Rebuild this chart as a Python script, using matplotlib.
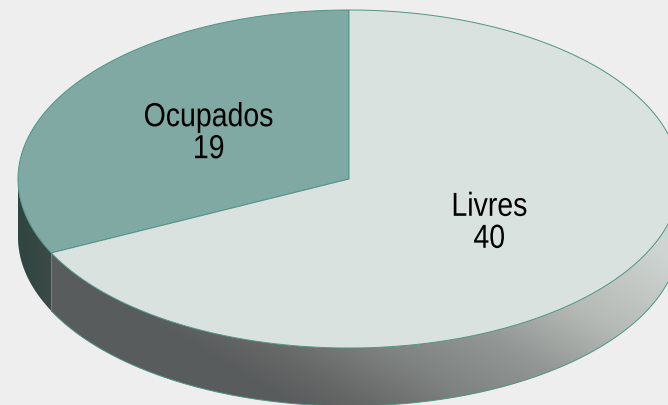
import numpy as np
import matplotlib
matplotlib.use('Agg')
import matplotlib.pyplot as plt
from matplotlib.patches import Polygon
from matplotlib.patheffects import AbstractPathEffect
from matplotlib.transforms import Affine2D
from matplotlib.colors import LinearSegmentedColormap

categories = ['Ocupados', 'Livres']
values = [19, 40]
colors = ['#7fa9a2', '#d9e2df']
edge = '#4f9484'

# geometria da pizza em pixels
cx, cy = 349, 179
rx, ry = 331, 169
depth = 58


class Tall(AbstractPathEffect):
    # estica o texto na vertical, a partir da linha de base (fonte estreita nao instalada)
    def __init__(self, k):
        super().__init__()
        self.k = k

    def draw_path(self, renderer, gc, tpath, affine, rgbFace=None):
        renderer.draw_path(gc, tpath, Affine2D().scale(1, self.k) + affine, rgbFace)


fig = plt.figure(figsize=(6.68, 4.05), dpi=100, facecolor='#eeeeee')
ax = fig.add_axes([0, 0, 1, 1])
ax.set_xlim(0, 668)
ax.set_ylim(405, 0)
ax.axis('off')


def pt(a, dy=0):
    # angulo a partir do topo, sentido anti-horario
    return cx - rx * np.sin(a), cy - ry * np.cos(a) + dy


total = sum(values)
frac = np.cumsum([0] + values) / total * 2 * np.pi

# lateral: so a parte de baixo da elipse aparece
side_cmap = [
    LinearSegmentedColormap.from_list('a', ['#2f4540', '#3c4a47']),
    LinearSegmentedColormap.from_list('b', [(0, '#595c5c'), (0.12, '#656867'), (0.3, '#7e8280'),
                                            (0.5, '#929694'), (0.72, '#b6bab7'), (1, '#ced4d1')]),
]
yy, xx = np.mgrid[0:405, 0:668]
grad = [
    (xx - 18) / 33.0,
    np.clip(((xx - 190) * 0.51 - (yy - 345) * 0.86) / 320.0, 0, 1),
]
for i in range(2):
    a0 = max(frac[i], np.pi / 2)
    a1 = min(frac[i + 1], 3 * np.pi / 2)
    t = np.linspace(a0, a1, 200)
    xt, yt = pt(t)
    xb, yb = pt(t, depth)
    poly = Polygon(np.r_[np.c_[xt, yt], np.c_[xb, yb][::-1]], closed=True,
                   fc='none', ec='none')
    ax.add_patch(poly)
    im = ax.imshow(grad[i], cmap=side_cmap[i], vmin=0, vmax=1, extent=(0, 668, 405, 0),
                   aspect='auto', zorder=1, interpolation='bilinear')
    im.set_clip_path(poly)
    if i == 1:
        ax.plot(xb, yb, color=edge, lw=0.7, zorder=2)
ax.set_xlim(0, 668)
ax.set_ylim(405, 0)

# aresta vertical entre as fatias
xs, ys = pt(frac[1])
ax.plot([xs, xs], [ys, ys + depth], color=edge, lw=0.7, zorder=2)

# tampo
for i in range(2):
    t = np.linspace(frac[i], frac[i + 1], 300)
    xt, yt = pt(t)
    ax.add_patch(Polygon(np.r_[[[cx, cy]], np.c_[xt, yt]], closed=True, fc=colors[i],
                         ec=edge, lw=0.7, zorder=3))

# rotulos
for i in range(2):
    mid = (frac[i] + frac[i + 1]) / 2
    lx = cx - rx * np.sin(mid) * 0.5
    ly = cy - ry * np.cos(mid) * 0.5
    for text, dy in [(categories[i], -8), (str(values[i]), 24)]:
        ax.text(lx, ly + dy, text, ha='center', va='baseline', fontsize=20.5,
                family='Liberation Sans', zorder=4, color='#000000',
                path_effects=[Tall(1.17)])

fig.savefig('out.png', dpi=100, facecolor=fig.get_facecolor())
